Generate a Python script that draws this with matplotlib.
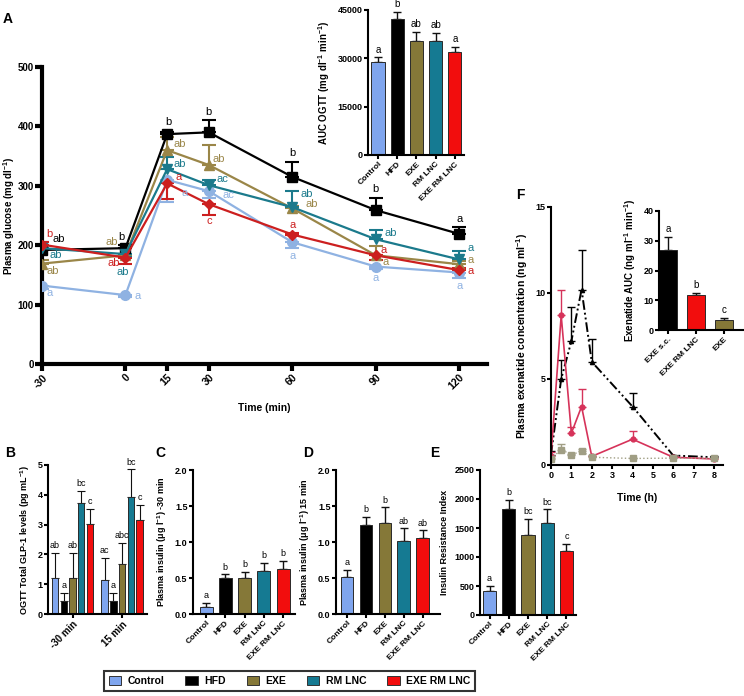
import matplotlib
matplotlib.use("Agg")
import matplotlib.pyplot as plt
from matplotlib.patches import Patch
import numpy as np

plt.rcParams['font.family'] = ['Liberation Sans', 'DejaVu Sans']
plt.rcParams['mathtext.fontset'] = 'custom'
plt.rcParams['mathtext.rm'] = 'Liberation Sans:bold'
plt.rcParams['mathtext.bf'] = 'Liberation Sans:bold'
plt.rcParams['mathtext.default'] = 'bf'

W, H = 744, 696

# ---- data ----
groups = ['Control', 'HFD', 'EXE', 'RM LNC', 'EXE RM LNC']
bar_colors = ['#7fa5ee', '#000000', '#857838', '#157a92', '#f20d0d']
line_colors = ['#8fb2e2', '#000000', '#9a8648', '#1b7a8c', '#cc1f1f']
markers = ['o', 's', '^', 'v', 'D']

ogtt_time = [-30, 0, 15, 30, 60, 90, 120]
glucose = {
    'Control':    [132, 116, 310, 291, 205, 164, 154],
    'HFD':        [192, 195, 387, 390, 315, 259, 219],
    'EXE':        [169, 183, 360, 335, 262, 183, 168],
    'RM LNC':     [195, 185, 328, 301, 264, 210, 176],
    'EXE RM LNC': [201, 179, 304, 269, 218, 183, 158],
}
# signed SEM: + drawn upward, - drawn downward
glucose_err = {
    'Control':    [-5, -3, -37, -12, -10, -4, -9],
    'HFD':        [8, 5, 3, 20, 25, 20, 11],
    'EXE':        [6, 3, 22, 33, 4, 16, 5],
    'RM LNC':     [10, -5, 20, 9, 28, 16, 15],
    'EXE RM LNC': [5, -10, -27, -18, 3, -8, 4],
}
# significance letters: (group, time index, text, dx px, dy px)
glucose_letters = [
    ('EXE RM LNC', 0, 'b', 7, 11), ('HFD', 0, 'ab', 17, 11), ('RM LNC', 0, 'ab', 14, -7),
    ('EXE', 0, 'ab', 11, -7), ('Control', 0, 'a', 8, -7),
    ('EXE', 1, 'ab', -14, 13), ('HFD', 1, 'b', -4, 11), ('EXE RM LNC', 1, 'ab', -12, -5),
    ('RM LNC', 1, 'ab', -3, -18), ('Control', 1, 'a', 12, -1),
    ('HFD', 2, 'b', 1, 12), ('EXE', 2, 'ab', 13, 6), ('RM LNC', 2, 'ab', 13, 5),
    ('EXE RM LNC', 2, 'a', 11, 6), ('Control', 2, 'a', 17, -13),
    ('HFD', 3, 'b', 0, 20), ('EXE', 3, 'ab', 10, 6), ('RM LNC', 3, 'ac', 14, 6),
    ('Control', 3, 'ac', 20, -4), ('EXE RM LNC', 3, 'c', 0, -17),
    ('HFD', 4, 'b', 0, 24), ('RM LNC', 4, 'ab', 14, 13), ('EXE', 4, 'ab', 19, 4),
    ('EXE RM LNC', 4, 'a', 0, 10), ('Control', 4, 'a', 0, -14),
    ('HFD', 5, 'b', 0, 21), ('RM LNC', 5, 'ab', 15, 6), ('EXE RM LNC', 5, 'a', 8, 5),
    ('EXE', 5, 'a', 10, -7), ('Control', 5, 'a', 0, -11),
    ('HFD', 6, 'a', 0, 15), ('RM LNC', 6, 'a', 11, 11), ('EXE', 6, 'a', 11, 4),
    ('EXE RM LNC', 6, 'a', 11, -1), ('Control', 6, 'a', 0, -13),
]

auc_ogtt = [29000, 42200, 35500, 35500, 32100]
auc_ogtt_err = [1300, 2300, 2800, 2300, 1500]
auc_ogtt_let = ['a', 'b', 'ab', 'ab', 'a']

glp1_times = ['-30 min', '15 min']
glp1 = [[1.20, 0.42, 1.20, 3.72, 3.02], [1.15, 0.42, 1.68, 3.92, 3.15]]
glp1_err = [[0.85, 0.30, 0.85, 0.40, 0.50], [0.72, 0.30, 0.70, 0.93, 0.50]]
glp1_let = [['ab', 'a', 'ab', 'bc', 'c'], ['ac', 'a', 'abc', 'bc', 'c']]

ins_m30 = [0.10, 0.50, 0.50, 0.60, 0.62]
ins_m30_err = [0.05, 0.05, 0.08, 0.11, 0.12]
ins_m30_let = ['a', 'b', 'b', 'b', 'b']

ins_15 = [0.52, 1.23, 1.27, 1.02, 1.05]
ins_15_err = [0.09, 0.12, 0.21, 0.17, 0.11]
ins_15_let = ['a', 'b', 'b', 'ab', 'ab']

iri = [410, 1830, 1380, 1590, 1100]
iri_err = [90, 160, 280, 230, 120]
iri_let = ['a', 'b', 'bc', 'bc', 'c']

pk_time = [0, 0.5, 1, 1.5, 2, 4, 6, 8]
pk_sc = [0.6, 5.0, 7.2, 10.2, 6.0, 3.4, 0.55, 0.45]
pk_sc_err = [0.2, 1.1, 2.0, 2.3, 1.3, 0.8, 0.05, 0.05]
pk_lnc = [0.5, 8.7, 1.85, 3.4, 0.5, 1.5, 0.45, 0.35]
pk_lnc_err = [0.25, 1.5, 0.35, 1.0, 0.05, 0.5, 0.05, 0.05]
pk_exe = [0.35, 0.9, 0.6, 0.8, 0.45, 0.38, 0.4, 0.38]
pk_exe_err = [0.05, 0.3, 0.05, 0.15, 0.05, 0.05, 0.05, 0.05]

exe_auc_groups = ['EXE s.c.', 'EXE RM LNC', 'EXE']
exe_auc = [27.0, 11.6, 3.5]
exe_auc_err = [4.2, 0.8, 0.5]
exe_auc_let = ['a', 'b', 'c']
exe_auc_colors = ['#000000', '#f20d0d', '#857838']

fig = plt.figure(figsize=(W / 100, H / 100), dpi=100)


def px_axes(l, t, r, b):
    return fig.add_axes([l / W, 1 - b / H, (r - l) / W, (b - t) / H])


def style(ax, lw=1.5, size=6):
    for s in ['top', 'right']:
        ax.spines[s].set_visible(False)
    for s in ['left', 'bottom']:
        ax.spines[s].set_linewidth(lw)
    ax.tick_params(width=lw, length=3, labelsize=size, pad=1)
    for t in ax.get_xticklabels() + ax.get_yticklabels():
        t.set_fontweight('bold')


def bars(ax, x, vals, errs, lets, colors, width=0.68, fs=6.5, lw=1.0):
    ax.bar(x, vals, width=width, color=colors, edgecolor='#2a2a2a', linewidth=0.7, zorder=2)
    ax.errorbar(x, vals, yerr=[np.zeros(len(vals)), errs], fmt='none', ecolor='#111111',
                elinewidth=lw, capsize=3, capthick=lw, zorder=1)
    for xi, v, e, s in zip(x, vals, errs, lets):
        ax.annotate(s, (xi, v + e), xytext=(0, 2), textcoords='offset points',
                    ha='center', va='bottom', fontsize=fs)


def rot_labels(ax, labels, size=6):
    ax.set_xticklabels(labels, rotation=45, ha='right', rotation_mode='anchor',
                       fontsize=size, fontweight='bold')


# ---- A: glucose time course ----
axA = px_axes(42, 67, 487, 364)
for name, mk, c in zip(groups, markers, line_colors):
    y = np.array(glucose[name], float)
    e = np.array(glucose_err[name], float)
    up = np.where(e > 0, e, 0)
    dn = np.where(e < 0, -e, 0)
    axA.errorbar(ogtt_time, y, yerr=[dn, up], fmt='none', ecolor=c, elinewidth=1.5,
                 capsize=5, capthick=1.5, zorder=2)
    ms = 7 if mk in ('o', 's') else 6.5
    if mk == 'D':
        ms = 5.5
    axA.plot(ogtt_time, y, color=c, marker=mk, ms=ms, lw=1.6, zorder=3)
for name, i, s, dx, dy in glucose_letters:
    c = line_colors[groups.index(name)]
    axA.annotate(s, (ogtt_time[i], glucose[name][i]), xytext=(dx, dy),
                 textcoords='offset pixels', ha='center', va='center', fontsize=8, color=c)
axA.set_xlim(-30, 130)
axA.set_ylim(0, 500)
axA.set_xticks(ogtt_time)
axA.set_yticks([0, 100, 200, 300, 400, 500])
style(axA, lw=3, size=7)
axA.tick_params(length=5)
axA.set_xticklabels([str(t) for t in ogtt_time], rotation=45, ha='right',
                    rotation_mode='anchor', fontsize=7.5, fontweight='bold')
axA.set_xlabel('Time (min)', fontsize=7.5, fontweight='bold', labelpad=8)
axA.set_ylabel('Plasma glucose (mg dl$^{-1}$)', fontsize=7, fontweight='bold',
               va='center')
axA.yaxis.set_label_coords((9.5 - 42) / 445, 0.5)
axA.spines['bottom'].set_bounds(-30, 130)

# ---- A inset: AUC ----
axAi = px_axes(368, 10, 464, 155)
bars(axAi, np.arange(5), auc_ogtt, auc_ogtt_err, auc_ogtt_let, bar_colors, fs=7)
axAi.set_xlim(-0.52, 4.47)
axAi.set_ylim(0, 45000)
axAi.set_yticks([0, 15000, 30000, 45000])
axAi.set_xticks(np.arange(5))
style(axAi, lw=1.5, size=6.5)
rot_labels(axAi, groups, size=6)
axAi.set_ylabel('AUC OGTT (mg dl$^{-1}$ min$^{-1}$)', fontsize=7, fontweight='bold')

# ---- B: GLP-1 ----
axB = px_axes(48, 465, 147, 614)
gap = 5.66
for g in range(2):
    x = g * gap + np.arange(5)
    bars(axB, x, glp1[g], glp1_err[g], glp1_let[g], bar_colors, width=0.72, fs=6.5, lw=0.8)
axB.set_xlim(-0.8, 10.5)
axB.set_ylim(0, 5)
axB.set_yticks(range(6))
axB.set_xticks([2, 2 + gap])
style(axB, size=6.5)
rot_labels(axB, glp1_times, size=7)
axB.set_ylabel('OGTT Total GLP-1 levels (pg mL$^{-1}$)', fontsize=6.5, fontweight='bold')

# ---- C ----
axC = px_axes(193, 470, 295, 614)
bars(axC, np.arange(5), ins_m30, ins_m30_err, ins_m30_let, bar_colors)
axC.set_xlim(-0.68, 4.62)
axC.set_ylim(0, 2.0)
axC.set_yticks([0, 0.5, 1.0, 1.5, 2.0])
axC.set_xticks(np.arange(5))
style(axC, size=6.5)
axC.set_yticklabels(['0.0', '0.5', '1.0', '1.5', '2.0'])
for t in axC.get_yticklabels():
    t.set_fontweight('bold')
rot_labels(axC, groups)
axC.set_ylabel('Plasma insulin ($\\mu$g l$^{-1}$) -30 min', fontsize=6.5, fontweight='bold')

# ---- D ----
axD = px_axes(336, 470, 440, 614)
bars(axD, np.arange(5), ins_15, ins_15_err, ins_15_let, bar_colors)
axD.set_xlim(-0.58, 4.9)
axD.set_ylim(0, 2.0)
axD.set_yticks([0, 0.5, 1.0, 1.5, 2.0])
axD.set_xticks(np.arange(5))
style(axD, size=6.5)
axD.set_yticklabels(['0.0', '0.5', '1.0', '1.5', '2.0'])
for t in axD.get_yticklabels():
    t.set_fontweight('bold')
rot_labels(axD, groups)
axD.set_ylabel('Plasma insulin ($\\mu$g l$^{-1}$) 15 min', fontsize=6.5, fontweight='bold')

# ---- E ----
axE = px_axes(480, 470, 576, 615)
bars(axE, np.arange(5), iri, iri_err, iri_let, bar_colors)
axE.set_xlim(-0.5, 4.5)
axE.set_ylim(0, 2500)
axE.set_yticks(range(0, 2501, 500))
axE.set_xticks(np.arange(5))
style(axE, size=6.5)
rot_labels(axE, groups)
axE.set_ylabel('Insulin Resistance Index', fontsize=6.5, fontweight='bold')

# ---- F: exenatide PK ----
axF = px_axes(551, 207, 723, 465)
axF.errorbar(pk_time, pk_sc, yerr=[np.zeros(8), pk_sc_err], fmt='none', ecolor='black',
             elinewidth=1, capsize=3, capthick=1)
axF.plot(pk_time, pk_sc, color='black', lw=1.4, ls=(0, (5, 1.5, 1, 1.5, 1, 1.5)),
         marker='^', ms=3)
axF.errorbar(pk_time, pk_lnc, yerr=[np.zeros(8), pk_lnc_err], fmt='none', ecolor='#d6335a',
             elinewidth=1, capsize=3, capthick=1)
axF.plot(pk_time, pk_lnc, color='#d6335a', lw=1.2, marker='o', ms=3.5)
axF.errorbar(pk_time, pk_exe, yerr=[np.zeros(8), pk_exe_err], fmt='none', ecolor='#a09e84',
             elinewidth=1, capsize=3, capthick=1)
axF.plot(pk_time, pk_exe, color='#a09e84', lw=1, ls=':', marker='s', ms=4)
axF.set_xlim(0, 8.44)
axF.set_ylim(0, 15)
axF.set_xticks(range(9))
axF.set_yticks([0, 5, 10, 15])
style(axF, size=6.5)
axF.set_xlabel('Time (h)', fontsize=7.5, fontweight='bold', labelpad=10)
axF.set_ylabel('Plasma exenatide concentration (ng ml$^{-1}$)', fontsize=7.5, fontweight='bold')

# ---- F inset ----
axFi = px_axes(659, 211, 744, 330)
bars(axFi, np.arange(3), exe_auc, exe_auc_err, exe_auc_let, exe_auc_colors, width=0.65, fs=7)
axFi.set_xlim(-0.32, 2.71)
axFi.set_ylim(0, 40)
axFi.set_yticks(range(0, 41, 10))
axFi.set_xticks(np.arange(3))
style(axFi, size=6.5)
rot_labels(axFi, exe_auc_groups, size=6)
axFi.set_ylabel('Exenatide AUC (ng ml$^{-1}$ min$^{-1}$)', fontsize=7, fontweight='bold')

# panel letters
for s, x, y in [('A', 8, 19), ('B', 10, 453), ('C', 160, 453), ('D', 308, 453),
                ('E', 435, 453), ('F', 520, 195)]:
    fig.text(x / W, 1 - y / H, s, fontsize=10, fontweight='bold', ha='center', va='center')

# legend
handles = [Patch(facecolor=c, edgecolor='#333333', linewidth=0.7) for c in bar_colors]
leg = fig.legend(handles, groups, loc='center', bbox_to_anchor=(289.5 / W, 1 - 681 / H),
                 ncol=5, frameon=True, fancybox=False, handlelength=1.2,
                 handleheight=0.9, columnspacing=2.0, handletextpad=0.6,
                 borderpad=0.45, prop={'weight': 'bold', 'size': 7.5})
leg.get_frame().set_edgecolor('black')
leg.get_frame().set_linewidth(1.5)

fig.savefig('out.png', dpi=100)
